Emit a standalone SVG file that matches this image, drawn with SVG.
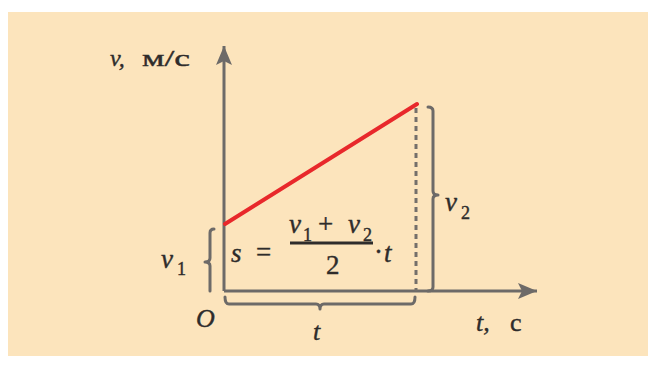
<svg xmlns="http://www.w3.org/2000/svg" width="654" height="371" viewBox="0 0 654 371">
<defs>
<style>
.ax{stroke:#6d6a68;stroke-width:3;fill:none}
.br{stroke:#6d6a68;stroke-width:3;fill:none;stroke-linecap:round;stroke-linejoin:round}
.dash{stroke:#746f6a;stroke-width:3;fill:none;stroke-dasharray:5 4}
text{font-family:'Liberation Serif','Times New Roman',serif;fill:#2e2c2b;stroke:#2e2c2b;stroke-width:0.4}
.it{font-style:italic}
</style>
<marker id="arr" markerUnits="userSpaceOnUse" markerWidth="22" markerHeight="18" refX="19" refY="9" orient="auto">
<path d="M0,1 L19,9 L0,17 L4,9 Z" fill="#6d6a68"/>
</marker>
</defs>
<rect x="0" y="0" width="654" height="371" fill="#ffffff"/>
<rect x="8" y="12" width="640" height="344" fill="#fce4bc"/>
<g id="connectors">
<line id="y-axis" class="ax" x1="224" y1="291" x2="224" y2="46" marker-end="url(#arr)"/>
<line id="x-axis" class="ax" x1="224" y1="291" x2="537" y2="291" marker-end="url(#arr)"/>
<line id="v-line" x1="225" y1="224" x2="417" y2="104" stroke="#e8282b" stroke-width="4" stroke-linecap="round"/>
<line id="dashed" class="dash" x1="416" y1="108" x2="416" y2="291"/>
<path id="brace-v1" class="br" d="M214,229 Q210,229 210,233 L210,258 Q210,262 205,262 Q210,262 210,266 L210,291"/>
<path id="brace-v2" class="br" d="M428,107 Q433,107 433,111 L433,191 Q433,195 438,195 Q433,195 433,199 L433,287 Q433,291 428,291"/>
<path id="brace-t" class="br" d="M225,297 Q225,304 229,304 L316,304 Q320,304 320,309 Q320,304 324,304 L411,304 Q415,304 415,297"/>
</g>
<g id="axis-y-label">
<text class="it" x="110" y="66" font-size="24">v,</text>
<text x="142" y="66" font-size="24" textLength="48" lengthAdjust="spacingAndGlyphs">м/с</text>
</g>
<g id="axis-x-label">
<text class="it" x="476" y="331" font-size="26">t,</text>
<text x="510" y="331" font-size="26">с</text>
</g>
<g id="origin"><text class="it" x="196" y="327" font-size="26">O</text></g>
<g id="label-t"><text class="it" x="313" y="340" font-size="26">t</text></g>
<g id="label-v1">
<text class="it" x="161" y="268" font-size="27">v</text>
<text x="177" y="275" font-size="18">1</text>
</g>
<g id="label-v2">
<text class="it" x="445" y="211" font-size="27">v</text>
<text x="461" y="219" font-size="18">2</text>
</g>
<g id="formula">
<text class="it" x="231" y="262" font-size="27">s</text>
<text x="256" y="261" font-size="27">=</text>
<text class="it" x="289" y="233" font-size="27">v</text>
<text x="303" y="241" font-size="18">1</text>
<text x="318" y="233" font-size="27">+</text>
<text class="it" x="348" y="233" font-size="27">v</text>
<text x="363" y="241" font-size="18">2</text>
<line x1="290" y1="243" x2="373" y2="243" stroke="#2e2c2b" stroke-width="3"/>
<text x="326" y="274" font-size="27">2</text>
<text x="374" y="261" font-size="27">·</text>
<text class="it" x="384" y="262" font-size="27">t</text>
</g>
</svg>
